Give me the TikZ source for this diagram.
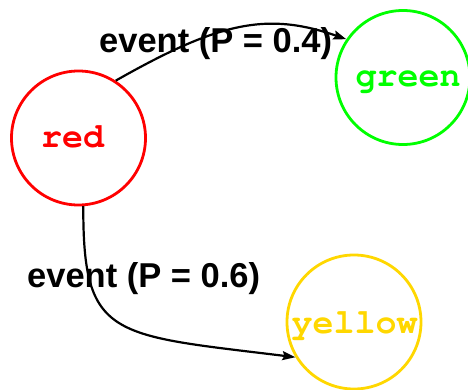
\documentclass[tikz,border=0pt]{standalone}
\usepackage{fontspec}
\setmainfont{Liberation Sans}
\newfontfamily\monob{TeX Gyre Cursor}
\usetikzlibrary{arrows.meta}
\definecolor{cred}{RGB}{255,0,0}
\definecolor{cgreen}{RGB}{0,255,0}
\definecolor{cyellow}{RGB}{255,215,0}
\tikzset{
  statecirc/.style={circle, draw, line width=2.8pt, minimum size=134pt, inner sep=0pt},
  statetext/.style={font=\monob\bfseries\fontsize{35}{35}\selectfont, inner sep=0pt},
  edgelbl/.style={font=\bfseries\fontsize{34.5}{34.5}\selectfont, inner sep=0pt, anchor=base west},
  trans/.style={line width=2.2pt, -{Stealth[length=13pt,width=9pt,inset=2pt]}}
}
\begin{document}
\begin{tikzpicture}[x=1pt,y=1pt]
\useasboundingbox (0,0) rectangle (468,389);
\node[statecirc, draw=cred] (red) at (78.5,251) {};
\node[statecirc, draw=cgreen] (green) at (403,311.5) {};
\node[statecirc, draw=cyellow] (yellow) at (354,67) {};
\node[statetext, text=cred, anchor=base] (redt) at (72.5,242) {red};
\node[statetext, text=cgreen, anchor=base] (greent) at (408,302) {green};
\node[statetext, text=cyellow, anchor=base] (yellowt) at (354.5,56) {yellow};
\draw[trans] (red.57) .. controls (219,367) and (267,377.4) .. (green.146);
\draw[trans] (red.-86) .. controls (83,50) and (111,54.4) .. (yellow.211);
\node[edgelbl] (l1) at (99,336.3) {event (P = 0.4)};
\node[edgelbl] (l2) at (27,102) {event (P = 0.6)};
\end{tikzpicture}
\end{document}
